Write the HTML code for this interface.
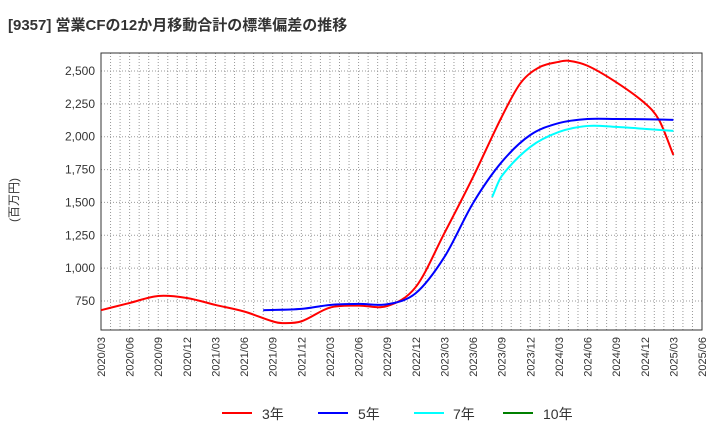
<!DOCTYPE html>
<html><head><meta charset="utf-8"><style>
body{margin:0;background:#fff;font-family:"Liberation Sans","Noto Sans CJK JP",sans-serif;}
svg text{font-family:"Liberation Sans","Noto Sans CJK JP",sans-serif;}
</style></head><body>
<svg id="c" width="720" height="440" xmlns="http://www.w3.org/2000/svg">
<text x="8" y="30" font-size="15" font-weight="bold" fill="#333">[9357]  営業CFの12か月移動合計の標準偏差の推移</text>
<text transform="translate(18,200) rotate(-90)" text-anchor="middle" font-size="12" fill="#333">(百万円)</text>
<g id="grid"></g><g id="axes"></g><g id="series"></g>
<g>
<line x1="222" y1="413" x2="252" y2="413" stroke="#f00" stroke-width="2"/><text x="262" y="419" font-size="14" fill="#333">3年</text>
<line x1="318" y1="413" x2="348" y2="413" stroke="#00f" stroke-width="2"/><text x="358" y="419" font-size="14" fill="#333">5年</text>
<line x1="414" y1="413" x2="444" y2="413" stroke="#0ff" stroke-width="2"/><text x="453" y="419" font-size="14" fill="#333">7年</text>
<line x1="503" y1="413" x2="533" y2="413" stroke="#008000" stroke-width="2"/><text x="543" y="419" font-size="14" fill="#333">10年</text>
</g>
</svg>
<script>
const xLabels=["2020/03","2020/06","2020/09","2020/12","2021/03","2021/06","2021/09","2021/12","2022/03","2022/06","2022/09","2022/12","2023/03","2023/06","2023/09","2023/12","2024/03","2024/06","2024/09","2024/12","2025/03","2025/06"];
const yTicks=[750,1000,1250,1500,1750,2000,2250,2500];
const red3Months=[0,3,6,9,12,15,18,19,21,24,27,30,33,36,39,42,44,46,48,49,51,54,57,58.5,60];
const red3Values=[680,735,788,773,720,670,595,582,595,700,715,712,857,1267,1693,2150,2410,2530,2570,2578,2540,2415,2256,2127,1861];
const blue5Months=[17,21,24,27,30,33,36,39,42,45,48,51,54,57,60];
const blue5Values=[680,690,720,728,725,810,1085,1495,1807,2013,2104,2135,2135,2133,2128];
const cyan7Months=[41,42,45,48,51,54,57,60];
const cyan7Values=[1541,1700,1922,2036,2082,2075,2060,2044];
const L=101,R=702,T=53,B=330;
const X=m=>L+m*(R-L)/63;
const Y=v=>301-(v-750)*(230/1750);
const NS="http://www.w3.org/2000/svg";
function mk(t,a,p){const e=document.createElementNS(NS,t);for(const k in a)e.setAttribute(k,a[k]);p.appendChild(e);return e;}
const grid=document.getElementById('grid'),axes=document.getElementById('axes'),ser=document.getElementById('series');
for(let m=1;m<63;m++){const g=mk('line',{x1:X(m),x2:X(m),y1:T,y2:B,stroke:'#999','stroke-dasharray':'1,2','stroke-width':1},grid);

}
yTicks.forEach(v=>{const g=mk('line',{x1:L,x2:R,y1:Y(v),y2:Y(v),stroke:'#999','stroke-dasharray':'1,2'},grid);


const t=mk('text',{x:L-6,y:Y(v)+4,'text-anchor':'end','font-size':12,fill:'#333'},axes);t.textContent=v.toLocaleString('en-US');

});
xLabels.forEach((s,i)=>{const x=X(i*3);const t=mk('text',{transform:`translate(${x+4},337) rotate(-90)`,'text-anchor':'end','font-size':11,fill:'#333'},axes);t.textContent=s;

});
const fr=mk('rect',{x:L,y:T,width:R-L,height:B-T,fill:'none',stroke:'#333'},axes);


function path(ms,vs){const p=ms.map((m,i)=>[X(m),Y(vs[i])]);let d=`M${p[0][0]},${p[0][1]}`;
for(let i=0;i<p.length-1;i++){const p0=p[i-1]||p[i],p1=p[i],p2=p[i+1],p3=p[i+2]||p2;
const d1=(p2[0]-p1[0]);
const t1=(p2[0]-p0[0])||1,t2=(p3[0]-p1[0])||1;
d+=` C${p1[0]+d1/3},${p1[1]+(p2[1]-p0[1])*d1/t1/3} ${p2[0]-d1/3},${p2[1]-(p3[1]-p1[1])*d1/t2/3} ${p2[0]},${p2[1]}`;}return d;}
[[red3Months,red3Values,'#f00','line-3y'],[blue5Months,blue5Values,'#00f','line-5y'],[cyan7Months,cyan7Values,'#0ff','line-7y']].forEach(s=>{
const e=mk('path',{d:path(s[0],s[1]),fill:'none',stroke:s[2],'stroke-width':2},ser);

});
</script>
</body></html>
